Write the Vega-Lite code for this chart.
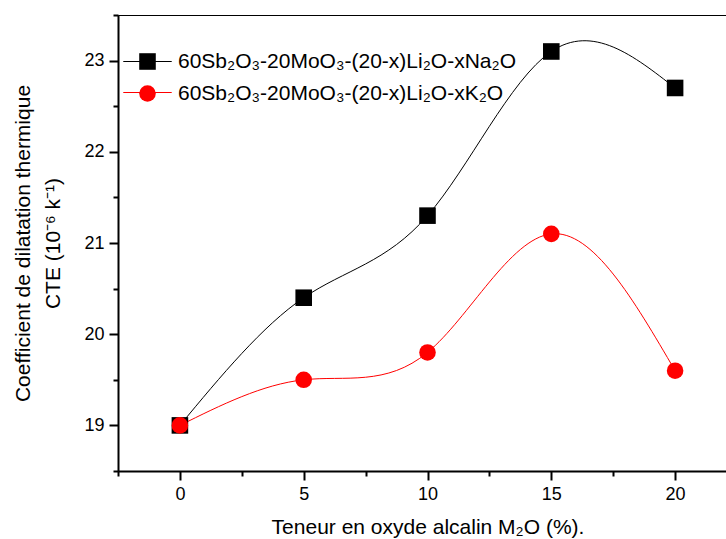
{
  "$schema": "https://vega.github.io/schema/vega-lite/v6.json",
  "autosize": {"type": "none"},
  "padding": {"left": 118, "top": 15, "right": 0, "bottom": 68},
  "width": 619,
  "height": 456,
  "background": "white",
  "config": {
    "view": {"stroke": "black", "strokeWidth": 1},
    "font": "Liberation Sans",
    "axis": {
      "grid": false,
      "domainColor": "black",
      "domainWidth": 2,
      "tickColor": "black",
      "tickWidth": 2,
      "labelColor": "black",
      "titleColor": "black",
      "labelFont": "Liberation Sans",
      "titleFont": "Liberation Sans",
      "titleFontWeight": "normal",
      "labelFontSize": 18,
      "titleFontSize": 21
    }
  },
  "data": {
    "values": [
      {"x": 0, "cte": 19.0, "serie": "60Sb₂O₃-20MoO₃-(20-x)Li₂O-xNa₂O"},
      {"x": 5, "cte": 20.4, "serie": "60Sb₂O₃-20MoO₃-(20-x)Li₂O-xNa₂O"},
      {"x": 10, "cte": 21.3, "serie": "60Sb₂O₃-20MoO₃-(20-x)Li₂O-xNa₂O"},
      {"x": 15, "cte": 23.1, "serie": "60Sb₂O₃-20MoO₃-(20-x)Li₂O-xNa₂O"},
      {"x": 20, "cte": 22.7, "serie": "60Sb₂O₃-20MoO₃-(20-x)Li₂O-xNa₂O"},
      {"x": 0, "cte": 19.0, "serie": "60Sb₂O₃-20MoO₃-(20-x)Li₂O-xK₂O"},
      {"x": 5, "cte": 19.5, "serie": "60Sb₂O₃-20MoO₃-(20-x)Li₂O-xK₂O"},
      {"x": 10, "cte": 19.8, "serie": "60Sb₂O₃-20MoO₃-(20-x)Li₂O-xK₂O"},
      {"x": 15, "cte": 21.1, "serie": "60Sb₂O₃-20MoO₃-(20-x)Li₂O-xK₂O"},
      {"x": 20, "cte": 19.6, "serie": "60Sb₂O₃-20MoO₃-(20-x)Li₂O-xK₂O"}
    ]
  },
  "layer": [
    {
      "mark": {"type": "line", "interpolate": "natural", "strokeWidth": 1},
      "encoding": {
        "x": {
          "field": "x", "type": "quantitative",
          "scale": {"domain": [-2.5, 22.5], "nice": false, "zero": false},
          "axis": {"values": [0, 5, 10, 15, 20], "tickSize": 9, "labelPadding": 5, "title": "Teneur en oxyde alcalin M₂O (%).", "titlePadding": 13}
        },
        "y": {
          "field": "cte", "type": "quantitative",
          "scale": {"domain": [18.5, 23.5], "nice": false, "zero": false},
          "axis": {"values": [19, 20, 21, 22, 23], "tickSize": 9, "labelPadding": 5, "title": ["Coefficient de dilatation thermique", "CTE (10⁻⁶ k⁻¹)"], "titlePadding": 20, "titleLineHeight": 30}
        },
        "stroke": {
          "field": "serie", "type": "nominal", "sort": "descending",
          "scale": {"range": ["#000000", "#ff0000"]},
          "legend": {
            "orient": "none", "legendX": 19, "legendY": 36, "title": null, "padding": 0,
            "symbolType": "M-2.85,0H2.85", "symbolSize": 289, "symbolStrokeWidth": 1,
            "labelFontSize": 21, "labelFont": "Liberation Sans", "labelOpacity": 0,
            "labelOffset": 20, "rowPadding": 9, "labelLimit": 0
          }
        }
      }
    },
    {
      "mark": {"type": "point", "filled": true, "opacity": 1, "size": 275},
      "encoding": {
        "x": {"field": "x", "type": "quantitative", "axis": null},
        "y": {"field": "cte", "type": "quantitative", "axis": null},
        "fill": {
          "field": "serie", "type": "nominal",
          "scale": {"domain": ["60Sb₂O₃-20MoO₃-(20-x)Li₂O-xNa₂O", "60Sb₂O₃-20MoO₃-(20-x)Li₂O-xK₂O"], "range": ["#000000", "#ff0000"]},
          "legend": {
            "orient": "none", "legendX": 19, "legendY": 36, "title": null, "padding": 0,
            "symbolSize": 275, "symbolOpacity": 1,
            "labelFontSize": 21, "labelFont": "Liberation Sans", "labelColor": "black",
            "labelOffset": 20, "rowPadding": 9, "labelLimit": 0
          }
        },
        "shape": {
          "field": "serie", "type": "nominal",
          "scale": {"domain": ["60Sb₂O₃-20MoO₃-(20-x)Li₂O-xNa₂O", "60Sb₂O₃-20MoO₃-(20-x)Li₂O-xK₂O"], "range": ["square", "circle"]},
          "legend": {
            "orient": "none", "legendX": 19, "legendY": 36, "title": null, "padding": 0,
            "symbolSize": 275, "symbolOpacity": 1,
            "labelFontSize": 21, "labelFont": "Liberation Sans", "labelColor": "black",
            "labelOffset": 20, "rowPadding": 9, "labelLimit": 0
          }
        }
      }
    },
    {
      "mark": {"type": "point", "opacity": 0},
      "encoding": {
        "x": {"field": "x", "type": "quantitative", "axis": {"orient": "bottom", "values": [-2.5, 2.5, 7.5, 12.5, 17.5], "labels": false, "domain": false, "tickSize": 5, "title": null}},
        "y": {"field": "cte", "type": "quantitative", "axis": {"orient": "left", "values": [18.5, 19.5, 20.5, 21.5, 22.5, 23.5], "labels": false, "domain": false, "tickSize": 5, "title": null}}
      }
    }
  ],
  "resolve": {"axis": {"x": "independent", "y": "independent"}}
}
